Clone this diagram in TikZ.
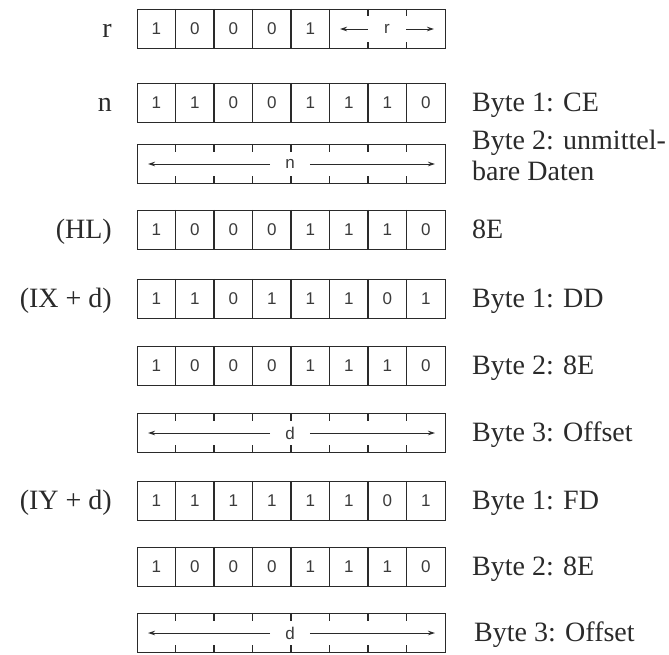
\documentclass[tikz,border=0pt]{standalone}
\usepackage{fontspec}
\setmainfont{Liberation Serif}
\newfontfamily\cellfont{Liberation Sans}
\usetikzlibrary{calc,arrows.meta}
\definecolor{ink}{HTML}{2A2A2A}
\definecolor{digit}{HTML}{3A3A3A}

\newcommand\BitRow[3]{%
  \node[bytebox] (#1) at (137,#2) {};
  \foreach \k in {1,...,7}
    \draw[divider] ($(#1.north west)+(\k*38.5,0)$) -- ($(#1.south west)+(\k*38.5,0)$);
  \foreach \b [count=\k] in {#3}
    \node[bit] (#1-\k) at ($(#1.west)+(\k*38.5-19.25,0)$) {\b};
}
\newcommand\DataRow[3]{%
  \node[bytebox] (#1) at (137,#2) {};
  \foreach \k in {1,...,7} {
    \draw[tick] ($(#1.north west)+(\k*38.5,0)$) -- +(0,8);
    \draw[tick] ($(#1.south west)+(\k*38.5,0)$) -- +(0,-8);
  }
  \node[field] (#1-t) at ($(#1.west)+(153,0)$) {#3};
  \coordinate (#1-l) at ($(#1.west)+(11,0)$);
  \coordinate (#1-r) at ($(#1.west)+(298,0)$);
  \draw[arr] (#1-t) -- (#1-l);
  \draw[arr] (#1-t) -- (#1-r);
}

\begin{document}
\begin{tikzpicture}[x=1pt,y=-1pt,
  bytebox/.style={draw=ink,line width=1.4pt,minimum width=308pt,minimum height=39pt,inner sep=0pt,anchor=west},
  divider/.style={draw=ink,line width=1.1pt},
  tick/.style={draw=ink,line width=1.1pt},
  bit/.style={font=\cellfont\fontsize{17}{17}\selectfont,text=digit,inner sep=0pt},
  field/.style={font=\cellfont\fontsize{17}{17}\selectfont,text=digit,inner ysep=0pt,inner xsep=15pt},
  arr/.style={draw=ink,line width=0.9pt,-{Stealth[length=7pt,width=4.5pt]}},
  lab/.style={font=\fontsize{28}{31}\selectfont,text=ink,inner sep=0pt,anchor=base west,align=left},
  reg/.style={font=\fontsize{28}{31}\selectfont,text=ink,inner sep=0pt,anchor=base east},
]
\useasboundingbox (0,0) rectangle (669,654);

% row r
\node[bytebox] (R) at (137,29) {};
\foreach \k in {1,...,5}
  \draw[divider] ($(R.north west)+(\k*38.5,0)$) -- ($(R.south west)+(\k*38.5,0)$);
\foreach \k in {6,7} {
  \draw[tick] ($(R.north west)+(\k*38.5,0)$) -- +(0,7);
  \draw[tick] ($(R.south west)+(\k*38.5,0)$) -- +(0,-7);
}
\foreach \b [count=\k] in {1,0,0,0,1}
  \node[bit] (R-\k) at ($(R.west)+(\k*38.5-19.25,0)$) {\b};
\node[field,inner xsep=16pt] (R-t) at ($(R.west)+(250,0)$) {r};
\coordinate (R-l) at ($(R.west)+(203,0)$);
\coordinate (R-r) at ($(R.west)+(297,0)$);
\draw[arr] (R-t) -- (R-l);
\draw[arr] (R-t) -- (R-r);

\BitRow{N}{103}{1,1,0,0,1,1,1,0}
\DataRow{ND}{164}{n}
\BitRow{HL}{230}{1,0,0,0,1,1,1,0}
\BitRow{IXa}{299}{1,1,0,1,1,1,0,1}
\BitRow{IXb}{366}{1,0,0,0,1,1,1,0}
\DataRow{IXd}{433}{d}
\BitRow{IYa}{501}{1,1,1,1,1,1,0,1}
\BitRow{IYb}{567}{1,0,0,0,1,1,1,0}
\DataRow{IYd}{633}{d}

% left labels
\node[reg] (LR)  at (112,37.5) {r};
\node[reg] (LN)  at (112,111.5) {n};
\node[reg] (LHL) at (112,238.5) {(HL)};
\node[reg] (LIX) at (112,307.5) {(IX + d)};
\node[reg] (LIY) at (112,509.5) {(IY + d)};

% right labels
\node[lab] (B1) at (472,111.5) {Byte 1: CE};
\node[lab] (B2) at (472,180) {Byte 2: unmittel-\\bare Daten};
\node[lab] (B3) at (472,238.5) {8E};
\node[lab] (B4) at (472,307.5) {Byte 1: DD};
\node[lab] (B5) at (472,374.5) {Byte 2: 8E};
\node[lab] (B6) at (472,441.5) {Byte 3: Offset};
\node[lab] (B7) at (472,509.5) {Byte 1: FD};
\node[lab] (B8) at (472,575.5) {Byte 2: 8E};
\node[lab] (B9) at (474,641.5) {Byte 3: Offset};
\end{tikzpicture}
\end{document}
